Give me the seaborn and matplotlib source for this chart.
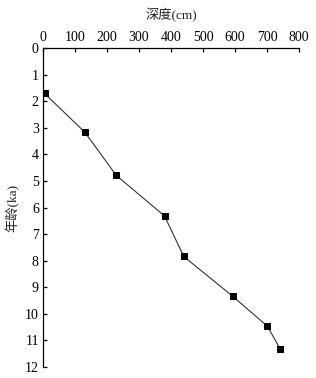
import matplotlib
matplotlib.use("Agg")
import matplotlib.pyplot as plt
import seaborn as sns
import pandas as pd

# depth (cm) vs age (ka)
depth = [5, 131, 229, 380, 440, 593, 701, 742]
age = [1.71, 3.17, 4.79, 6.32, 7.84, 9.34, 10.46, 11.33]
xticks = [0, 100, 200, 300, 400, 500, 600, 700, 800]
yticks = list(range(0, 13))

df = pd.DataFrame({"depth": depth, "age": age})

sns.set_style("white")
plt.rcParams['font.family'] = ['Liberation Serif', 'Noto Sans CJK SC', 'DejaVu Sans']

fig = plt.figure(figsize=(3.16, 3.78), dpi=100)
ax = fig.add_axes([0.136, 0.029, 0.81, 0.844])

sns.lineplot(data=df, x="depth", y="age", ax=ax, color="#333333", linewidth=0.8,
             marker="s", markersize=3.8, markerfacecolor="black",
             markeredgecolor="black", sort=False)

ax.set_xlim(0, 800)
ax.set_ylim(12, 0)
ax.set_xticks(xticks)
ax.set_yticks(yticks)
ax.xaxis.tick_top()
ax.xaxis.set_label_position("top")
ax.set_xlabel("深度(cm)", fontsize=9.5, labelpad=8, color="#222222")
ax.set_ylabel("年龄(ka)", fontsize=9.5, labelpad=4, color="#222222")

for s in ["right", "bottom"]:
    ax.spines[s].set_visible(False)
for s in ["left", "top"]:
    ax.spines[s].set_color("black")
    ax.spines[s].set_linewidth(0.9)

ax.tick_params(axis="both", direction="in", length=3, width=0.9, labelsize=10,
               colors="black", pad=3)
ax.tick_params(axis="x", top=True, bottom=False)
ax.tick_params(axis="y", left=True, right=False)

fig.savefig("out.png", dpi=100)
